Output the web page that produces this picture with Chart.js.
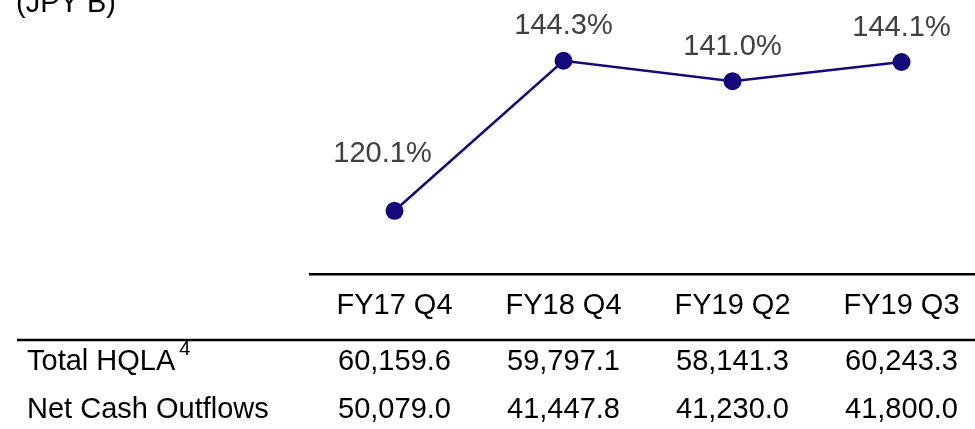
<!DOCTYPE html>
<html>
<head>
<meta charset="utf-8">
<title>LCR</title>
<script src="https://cdn.jsdelivr.net/npm/chart.js@4"></script>
<style>
  html, body { margin: 0; padding: 0; background: #fff; overflow: hidden; }
  #wrap { width: 986px; height: 429px; }
</style>
</head>
<body>
<div id="wrap"><canvas id="lcrChart" width="986" height="429"></canvas></div>
<script>
// data
const periods = ['FY17 Q4', 'FY18 Q4', 'FY19 Q2', 'FY19 Q3'];
const lcrValues = [120.1, 144.3, 141.0, 144.1];
const hqlaValues = [60159.6, 59797.1, 58141.3, 60243.3];
const outflowValues = [50079.0, 41447.8, 41230.0, 41800.0];
const unitLabel = '(JPY B)';
const rowLabels = ['Total HQLA', 'Net Cash Outflows'];

const FONT = "'Liberation Sans', Arial, sans-serif";
const NAVY = '#13097a';

// label nudges relative to each point (first one sits left/higher)
const labelShift = [[-12, -57], [0, -35], [0, -34], [0, -34]];

const fmt = (v) => v.toLocaleString('en-US', { minimumFractionDigits: 1, maximumFractionDigits: 1 });

const valueLabels = {
    id: 'valueLabels',
    afterDatasetsDraw(chart) {
        const { ctx } = chart;
        const meta = chart.getDatasetMeta(0);
        ctx.save();
        ctx.font = `29px ${FONT}`;
        ctx.fillStyle = '#404040';
        ctx.textAlign = 'center';
        ctx.textBaseline = 'middle';
        meta.data.forEach((pt, i) => {
            const [dx, dy] = labelShift[i];
            ctx.fillText(lcrValues[i].toFixed(1) + '%', pt.x + dx, pt.y + dy);
        });
        ctx.restore();
    }
};

const tableRows = {
    id: 'tableRows',
    afterDraw(chart) {
        const { ctx } = chart;
        const x = chart.scales.x;
        ctx.save();

        // unit caption, mostly cut off by the top edge
        ctx.font = `29px ${FONT}`;
        ctx.fillStyle = '#000';
        ctx.textAlign = 'left';
        ctx.textBaseline = 'alphabetic';
        ctx.fillText(unitLabel, 16, 12);

        // rule under the header row
        ctx.strokeStyle = '#000';
        ctx.lineWidth = 2.5;
        ctx.beginPath();
        ctx.moveTo(17, 340);
        ctx.lineTo(chart.width, 340);
        ctx.stroke();

        const rows = [hqlaValues, outflowValues];
        const rowY = [362, 410];
        ctx.textBaseline = 'middle';
        rows.forEach((vals, r) => {
            ctx.font = `29px ${FONT}`;
            ctx.textAlign = 'left';
            ctx.fillText(rowLabels[r], 27, rowY[r]);
            if (r === 0) {
                const w = ctx.measureText(rowLabels[r]).width;
                ctx.font = `20px ${FONT}`;
                ctx.fillText('4', 27 + w + 4, rowY[r] - 13);
                ctx.font = `29px ${FONT}`;
            }
            ctx.textAlign = 'center';
            vals.forEach((v, i) => {
                ctx.fillText(fmt(v), x.getPixelForValue(i), rowY[r]);
            });
        });
        ctx.restore();
    }
};

new Chart(document.getElementById('lcrChart').getContext('2d'), {
    type: 'line',
    data: {
        labels: periods,
        datasets: [{
            label: 'LCR',
            data: lcrValues,
            borderColor: NAVY,
            backgroundColor: NAVY,
            borderWidth: 2.5,
            pointRadius: 9,
            pointBackgroundColor: NAVY,
            pointBorderWidth: 0,
            tension: 0,
            fill: false,
            clip: false
        }]
    },
    options: {
        responsive: false,
        animation: false,
        layout: { autoPadding: false, padding: { left: 310, right: 0, top: 0, bottom: 0 } },
        scales: {
            x: {
                offset: true,
                grid: { display: false, drawTicks: false },
                border: { display: true, color: '#000', width: 2.5 },
                ticks: {
                    color: '#000',
                    font: { family: FONT, size: 29 },
                    padding: 15,
                    maxRotation: 0,
                    autoSkip: false
                },
                afterFit: (scale) => { scale.height = 155; }
            },
            y: {
                display: false,
                min: 109.9,
                max: 154.1
            }
        },
        plugins: {
            legend: { display: false },
            tooltip: { enabled: false }
        }
    },
    plugins: [valueLabels, tableRows]
});
</script>
</body>
</html>
